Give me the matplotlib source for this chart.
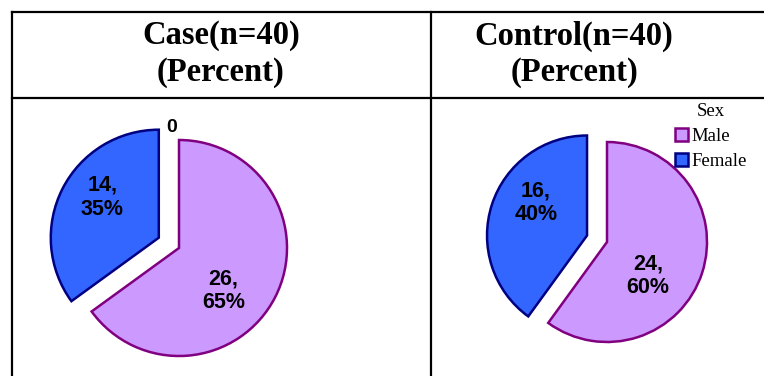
import matplotlib
matplotlib.use("Agg")
import matplotlib.pyplot as plt
from matplotlib.lines import Line2D

# ---- data ----
categories = ["Male", "Female"]
case_counts = [26, 14]
control_counts = [24, 16]
case_total = 40
control_total = 40
headers = ["Case(n=40)\n(Percent)", "Control(n=40)\n(Percent)"]
legend_title = "Sex"
zero_label = "0"

# ---- style ----
fill_colors = ["#CC99FF", "#3366FF"]
edge_colors = ["#800080", "#000080"]
explode = [0.0, 0.21]

W, H = 764, 376
DPI = 100
fig = plt.figure(figsize=(W / DPI, H / DPI), dpi=DPI)
fig.patch.set_facecolor("white")


def fx(px):
    return px / W


def fy(py):
    return 1 - py / H


# table lines
lw = 1.6
for (x0, y0, x1, y1) in [(12, 12, 764, 12), (12, 98, 764, 98),
                         (12, 12, 12, 376), (431, 12, 431, 376)]:
    fig.add_artist(Line2D([fx(x0), fx(x1)], [fy(y0), fy(y1)],
                          color="black", lw=lw, transform=fig.transFigure))

# headers
hdr_font = dict(family="Liberation Serif", weight="bold", fontsize=23.5,
                ha="center", va="center", linespacing=1.2)
fig.text(fx(221), fy(54), headers[0], **hdr_font)
fig.text(fx(574), fy(54), headers[1], **hdr_font)


def make_pie(cx, cy, r, counts, total, lab_pos):
    ax = fig.add_axes([fx(cx - r), fy(cy + r), 2 * r / W, 2 * r / H])
    ax.axis("off")
    wedges, _ = ax.pie(counts, colors=fill_colors, explode=explode,
                       startangle=90, counterclock=False, radius=1,
                       wedgeprops=dict(linewidth=1.8))
    ax.set_xlim(-1, 1)
    ax.set_ylim(-1, 1)
    for w, ec in zip(wedges, edge_colors):
        w.set_edgecolor(ec)
        w.set_clip_on(False)
    for c, (lx, ly) in zip(counts, lab_pos):
        pct = round(100 * c / total)
        ax.text(lx, ly, f"{c},\n{pct}%", ha="center", va="center",
                family="Liberation Sans", weight="bold", fontsize=15.5,
                linespacing=1.16)
    return ax, wedges


ax1, w1 = make_pie(179, 248, 108, case_counts, case_total,
                   [(0.41, -0.40), (-0.71, 0.47)])
ax1.text(-0.065, 1.12, zero_label, ha="center", va="center",
         family="Liberation Sans", weight="bold", fontsize=14)

ax2, w2 = make_pie(607, 242, 100, control_counts, control_total,
                   [(0.41, -0.34), (-0.71, 0.39)])

leg = fig.legend(w2, categories, title=legend_title, loc="upper left",
                 bbox_to_anchor=(fx(675), fy(103)), frameon=False,
                 prop=dict(family="Liberation Serif", size=13.5),
                 handlelength=0.7, handleheight=0.7, handletextpad=0.2,
                 labelspacing=0.42, borderpad=0, borderaxespad=0)
leg.get_title().set_fontfamily("Liberation Serif")
leg.get_title().set_fontsize(13.5)
leg.set_alignment("center")

fig.savefig("out.png", dpi=DPI, facecolor="white")
